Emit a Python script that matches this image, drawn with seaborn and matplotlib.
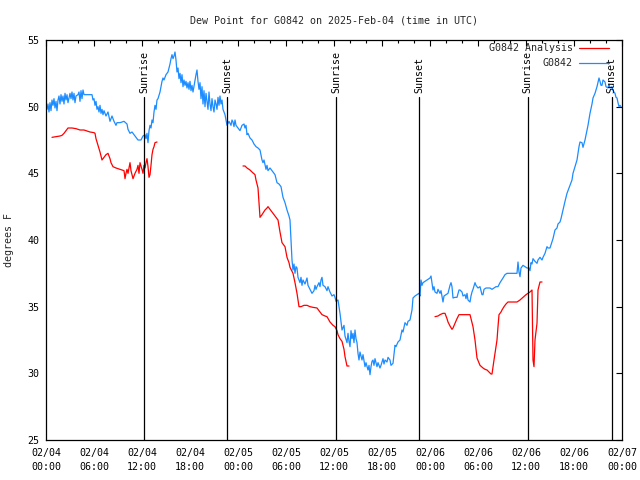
import pandas as pd
import numpy as np
import seaborn as sns
import matplotlib.pyplot as plt
import matplotlib.dates as mdates
from matplotlib.lines import Line2D

#station dew point as (step, degF), step = 7.5 minutes from 2025-02-04 00:00 UTC
obs_day1 = [(0, 50.0), (1, 49.8), (2, 50.2), (3, 49.6), (4, 50.3), (5, 49.7), (6, 50.5), (7, 50.1), (8, 50.6),
            (9, 49.9), (10, 50.4), (11, 49.7), (12, 50.5), (13, 50.8), (14, 50.2), (15, 50.9), (16, 50.4),
            (17, 50.8), (18, 50.2), (19, 51.0), (20, 50.5), (21, 50.9), (22, 50.3), (24, 51.0), (25, 50.6),
            (26, 51.1), (27, 50.5), (28, 51.0), (29, 50.3), (30, 50.8), (32, 50.9), (33, 51.1), (34, 50.4),
            (35, 51.2), (36, 50.6), (37, 51.25), (38, 50.9), (40, 50.9), (42, 50.9), (44, 50.9), (46, 50.9),
            (47, 50.5), (48, 50.6), (49, 50.1), (50, 50.4), (51, 49.8), (52, 50.0), (53, 49.6), (54, 50.1),
            (55, 49.5), (56, 49.8), (57, 49.4), (58, 49.7), (60, 49.3), (62, 49.6), (64, 48.9), (66, 49.3),
            (68, 48.9), (70, 48.6), (71, 48.8), (74, 48.8), (78, 48.9), (81, 48.7), (82, 48.3), (84, 48.0),
            (86, 48.1), (88, 47.9), (90, 47.7), (92, 47.5), (95, 47.5), (97, 47.8), (99, 47.9), (100, 47.6),
            (101, 48.0), (102, 47.3), (103, 48.2), (104, 48.6), (105, 48.4), (106, 49.0), (107, 48.8),
            (108, 49.6), (109, 50.1), (110, 49.8), (111, 50.5), (112, 50.6), (114, 51.1), (116, 51.9),
            (117, 52.15), (118, 52.0), (120, 52.4), (122, 52.6), (124, 53.2), (125, 53.6), (126, 53.9),
            (127, 53.6), (128, 53.8), (129, 54.1), (130, 53.5), (131, 52.6), (132, 52.9), (133, 52.1),
            (134, 52.5), (135, 51.8), (136, 52.4), (137, 51.5), (138, 52.0), (139, 51.6), (140, 51.9),
            (141, 51.4), (142, 51.8), (143, 51.3), (144, 51.9), (145, 51.2), (146, 51.6), (147, 51.1),
            (149, 52.0), (150, 52.4), (151, 52.75), (152, 51.9), (153, 51.3), (154, 51.8), (155, 50.6),
            (156, 51.5), (157, 50.2), (158, 51.2), (159, 50.0), (160, 51.0), (161, 50.4), (162, 49.8),
            (163, 51.1), (164, 50.2), (165, 49.7), (166, 50.6), (167, 50.0), (168, 49.6), (169, 50.5),
            (170, 50.2), (171, 49.8), (172, 50.7), (173, 50.1), (174, 50.8), (175, 50.2), (176, 50.5),
            (177, 49.8), (179, 49.4), (181, 48.6), (183, 48.9), (185, 48.6), (186, 49.0), (187, 48.85),
            (188, 48.5), (189, 49.0), (190, 48.6)]
obs_day2 = [(192, 48.4), (194, 48.2), (196, 48.6), (198, 48.7), (199, 48.4), (200, 48.6), (201, 47.9),
            (202, 48.0), (204, 47.65), (206, 47.5), (208, 47.2), (210, 47.0), (212, 46.9), (214, 46.75),
            (216, 46.0), (217, 45.8), (218, 46.0), (220, 45.3), (221, 45.6), (222, 45.2), (224, 45.4),
            (226, 45.2), (227, 45.1), (229, 44.9), (231, 44.3), (233, 44.2), (235, 44.0), (236, 43.6),
            (237, 43.2), (239, 42.8), (241, 42.25), (243, 41.8), (244, 41.5), (245, 40.0), (246, 38.5),
            (247, 37.75), (248, 38.2), (249, 37.5), (250, 38.0), (251, 37.9), (252, 37.2), (254, 36.8),
            (255, 37.2), (256, 36.6), (257, 37.0), (259, 36.7), (261, 37.15), (262, 36.6), (264, 36.3),
            (266, 36.0), (268, 36.2), (269, 36.6), (270, 36.3), (271, 36.5), (273, 36.8), (274, 36.5),
            (275, 37.0), (276, 37.2), (277, 36.6), (279, 36.5), (281, 36.2), (282, 36.5), (284, 36.1),
            (286, 35.8), (288, 35.9), (289, 35.7), (290, 35.4), (292, 35.5), (294, 34.5), (296, 33.25),
            (298, 33.6), (299, 32.8), (301, 32.3), (302, 33.0), (303, 32.4), (304, 32.0), (305, 33.2),
            (306, 32.6), (307, 33.0), (308, 32.3), (309, 33.25), (310, 32.6), (311, 32.3), (312, 31.5),
            (313, 31.0), (314, 31.6), (316, 31.0), (317, 31.4), (319, 30.5), (320, 30.8), (322, 30.25),
            (323, 30.6), (324, 29.9), (325, 30.5), (326, 30.9), (327, 31.0), (328, 30.6), (329, 31.1),
            (331, 30.5), (332, 30.8), (334, 30.4), (335, 30.6), (337, 31.1), (338, 30.7), (339, 31.0),
            (341, 30.85), (342, 31.2), (344, 31.0), (345, 30.6), (347, 30.75), (349, 32.1), (350, 32.0),
            (352, 32.35), (354, 32.5), (356, 33.25), (357, 33.1), (359, 33.8), (361, 33.6), (362, 33.9),
            (364, 34.0), (366, 34.75), (367, 35.65), (369, 35.8), (371, 35.9), (373, 36.0), (374, 35.8),
            (375, 37.0), (376, 36.6), (377, 36.8), (379, 36.9), (381, 37.0)]
obs_day3 = [(384, 37.15), (385, 37.3), (386, 36.8), (387, 36.25), (388, 36.5), (389, 36.1), (391, 36.0),
            (392, 36.3), (394, 36.0), (395, 36.2), (397, 35.35), (398, 35.8), (400, 35.9), (402, 36.0),
            (404, 36.6), (405, 36.8), (406, 36.5), (407, 35.65), (409, 35.7), (411, 35.7), (413, 36.25),
            (414, 36.25), (416, 36.1), (417, 35.8), (419, 35.9), (420, 35.6), (421, 36.0), (422, 35.5),
            (424, 35.35), (425, 35.8), (426, 36.1), (427, 36.3), (429, 36.8), (430, 36.6), (432, 36.4),
            (434, 36.5), (435, 36.2), (436, 35.9), (437, 35.9), (438, 36.3), (440, 36.4), (441, 36.4),
            (444, 36.4), (446, 36.3), (448, 36.4), (450, 36.5), (452, 36.5), (454, 36.8), (457, 37.15),
            (459, 37.4), (461, 37.5), (464, 37.5), (467, 37.5), (469, 37.5), (471, 37.5), (472, 38.35),
            (473, 37.6), (474, 37.25), (475, 37.9), (477, 38.1), (479, 38.0), (481, 37.9), (483, 37.9),
            (484, 37.7), (485, 38.3), (486, 38.2), (487, 38.6), (489, 38.4), (491, 38.25), (492, 38.5),
            (494, 38.7), (496, 38.5), (497, 38.7), (499, 39.0), (501, 39.5), (502, 39.4), (504, 39.4),
            (506, 39.85), (507, 40.1), (509, 40.75), (511, 40.9), (512, 41.2), (514, 41.35), (515, 41.6),
            (517, 42.25), (519, 42.9), (521, 43.5), (523, 43.9), (524, 44.1), (526, 44.5), (527, 45.0),
            (529, 45.5), (531, 46.0), (532, 46.5), (533, 47.0), (534, 47.35), (536, 47.3), (537, 46.95),
            (539, 47.5), (541, 48.25), (542, 48.6), (544, 49.5), (546, 50.2), (547, 50.65), (549, 51.0),
            (551, 51.5), (553, 52.15), (554, 51.9), (555, 51.6), (556, 51.6), (557, 52.0), (559, 51.85),
            (560, 51.5), (562, 51.4), (563, 51.7), (564, 51.4), (566, 51.5), (567, 51.2), (569, 51.0),
            (570, 50.7), (571, 50.65), (572, 50.3), (573, 50.0), (574, 50.1), (575, 50.0)]

#analysis runs, same step units
ana_run1 = [(6, 47.7), (10, 47.75), (14, 47.8), (16, 47.85), (18, 48.0), (20, 48.2), (22, 48.4), (26, 48.4),
            (30, 48.35), (34, 48.25), (38, 48.25), (42, 48.15), (44, 48.1), (48, 48.05), (49, 48.0), (50, 47.6),
            (52, 47.1), (54, 46.6), (55, 46.3), (56, 46.0), (58, 46.2), (60, 46.4), (62, 46.5), (64, 46.1),
            (65, 45.8), (67, 45.5), (70, 45.4), (74, 45.3), (76, 45.25), (78, 45.2), (79, 44.6), (80, 45.0),
            (81, 45.3), (82, 45.0), (84, 45.8), (85, 45.2), (87, 44.6), (89, 45.0), (91, 45.3), (92, 45.6),
            (93, 45.0), (94, 45.8), (96, 45.3), (97, 45.0), (98, 45.6), (99, 45.4), (100, 45.8), (101, 46.1),
            (102, 45.5), (103, 44.7), (104, 44.9), (105, 45.6), (106, 46.4), (107, 46.8), (108, 47.0),
            (109, 47.3), (111, 47.35)]
ana_run2 = [(197, 45.55), (199, 45.55), (201, 45.4), (204, 45.25), (206, 45.1), (209, 44.9), (210, 44.5),
            (212, 43.9), (213, 42.8), (214, 41.7), (216, 41.9), (219, 42.25), (221, 42.4), (222, 42.5),
            (224, 42.3), (227, 42.0), (230, 41.7), (232, 41.5), (234, 40.6), (236, 39.8), (239, 39.5),
            (241, 38.7), (243, 38.3), (244, 37.95), (247, 37.5), (249, 36.8), (251, 36.0), (253, 35.0),
            (255, 35.0), (258, 35.1), (261, 35.1), (264, 35.0), (267, 34.95), (271, 34.9), (274, 34.6),
            (276, 34.4), (279, 34.3), (281, 34.25), (284, 33.85), (287, 33.6), (289, 33.5), (291, 33.2),
            (292, 32.9), (294, 32.6), (296, 32.4), (298, 31.8), (299, 31.25), (300, 30.9), (301, 30.55),
            (303, 30.55)]
ana_run3 = [(389, 34.25), (392, 34.3), (394, 34.4), (397, 34.5), (399, 34.5), (401, 34.1), (402, 33.85),
            (404, 33.55), (406, 33.3), (407, 33.4), (409, 33.75), (411, 34.1), (413, 34.4), (416, 34.4),
            (420, 34.4), (424, 34.4), (425, 34.1), (427, 33.5), (429, 32.5), (431, 31.15), (434, 30.6),
            (437, 30.4), (439, 30.3), (441, 30.25), (443, 30.1), (445, 29.95), (446, 29.95), (448, 31.0),
            (450, 32.0), (451, 32.5), (452, 33.5), (453, 34.4), (455, 34.6), (456, 34.75), (458, 35.0),
            (460, 35.2), (462, 35.35), (466, 35.35), (471, 35.35), (474, 35.5), (477, 35.7), (480, 35.9),
            (482, 36.0), (484, 36.1), (486, 36.25), (487, 31.0), (488, 30.5), (489, 32.5), (491, 33.75),
            (492, 36.25), (494, 36.85), (496, 36.85)]

sun_labels = ["Sunrise", "Sunset", "Sunrise", "Sunset", "Sunrise", "Sunset"]
sun_times = ["2025-02-04 12:17", "2025-02-04 22:40", "2025-02-05 12:17", "2025-02-05 22:40",
             "2025-02-06 12:12", "2025-02-06 22:42"]

start = pd.Timestamp("2025-02-04 00:00")
step = pd.Timedelta(minutes=7.5)


def to_frame(points, run=0):
    s, d = zip(*points)
    return pd.DataFrame({"time": start + np.array(s) * step, "dew": d, "run": run})


obs = to_frame(obs_day1 + obs_day2 + obs_day3)
ana = pd.concat([to_frame(p, i) for i, p in enumerate([ana_run1, ana_run2, ana_run3])])

sns.set_theme(style="white")
plt.rcParams['font.family'] = ['DejaVu Sans Mono']
plt.rcParams['font.size'] = 7.2

fig = plt.figure(figsize=(6.4, 4.8), dpi=100)
ax = fig.add_axes([46 / 640, 40 / 480, 576 / 640, 400 / 480])

red = '#ff0000'
blue = '#1c8cff'

sns.lineplot(data=ana, x="time", y="dew", units="run", estimator=None, color=red, linewidth=0.9, ax=ax)
sns.lineplot(data=obs, x="time", y="dew", color=blue, linewidth=0.9, ax=ax)

#sunrise / sunset markers
for lab, t in zip(sun_labels, sun_times):
    t = pd.Timestamp(t)
    ax.axvline(t, ymin=0, ymax=0.857, color='black', linewidth=0.9)
    ax.text(t, 0.868, lab, transform=ax.get_xaxis_transform(), rotation=90,
            ha='center', va='bottom', fontsize=7.2, color='black')

ax.set_xlim(start, pd.Timestamp("2025-02-07 00:00"))
ax.set_ylim(25, 55)
ax.set_yticks([25, 30, 35, 40, 45, 50, 55])
ax.xaxis.set_major_locator(mdates.HourLocator(byhour=[0, 6, 12, 18]))
ax.xaxis.set_minor_locator(mdates.HourLocator(interval=2))
ax.xaxis.set_major_formatter(mdates.DateFormatter('%m/%d\n%H:%M'))
ax.tick_params(which='both', direction='in', top=True, right=True, colors='black', labelsize=7.2)
ax.tick_params(which='major', length=4, width=0.8)
ax.tick_params(which='minor', length=2, width=0.8)
ax.tick_params(axis='x', pad=6)
ax.tick_params(axis='y', pad=4.5)
for s in ax.spines.values():
    s.set_color('black')
    s.set_linewidth(0.9)

ax.set_xlabel("")
ax.set_ylabel("degrees F", fontsize=7.2, labelpad=10)
ax.set_title("Dew Point for G0842 on 2025-Feb-04 (time in UTC)", fontsize=7.2, pad=12)

handles = [Line2D([], [], color=red, linewidth=0.9), Line2D([], [], color=blue, linewidth=0.9)]
ax.legend(handles, ["G0842 Analysis", "G0842"], loc='upper right', bbox_to_anchor=(0.986, 1.005),
          frameon=False, markerfirst=False, handlelength=3.0, fontsize=7.2, borderaxespad=0.1,
          labelspacing=0.5, handletextpad=0.6)

fig.canvas.draw()
plt.setp(ax.get_xticklabels(), linespacing=1.5)

plt.savefig("out.png", dpi=100)
